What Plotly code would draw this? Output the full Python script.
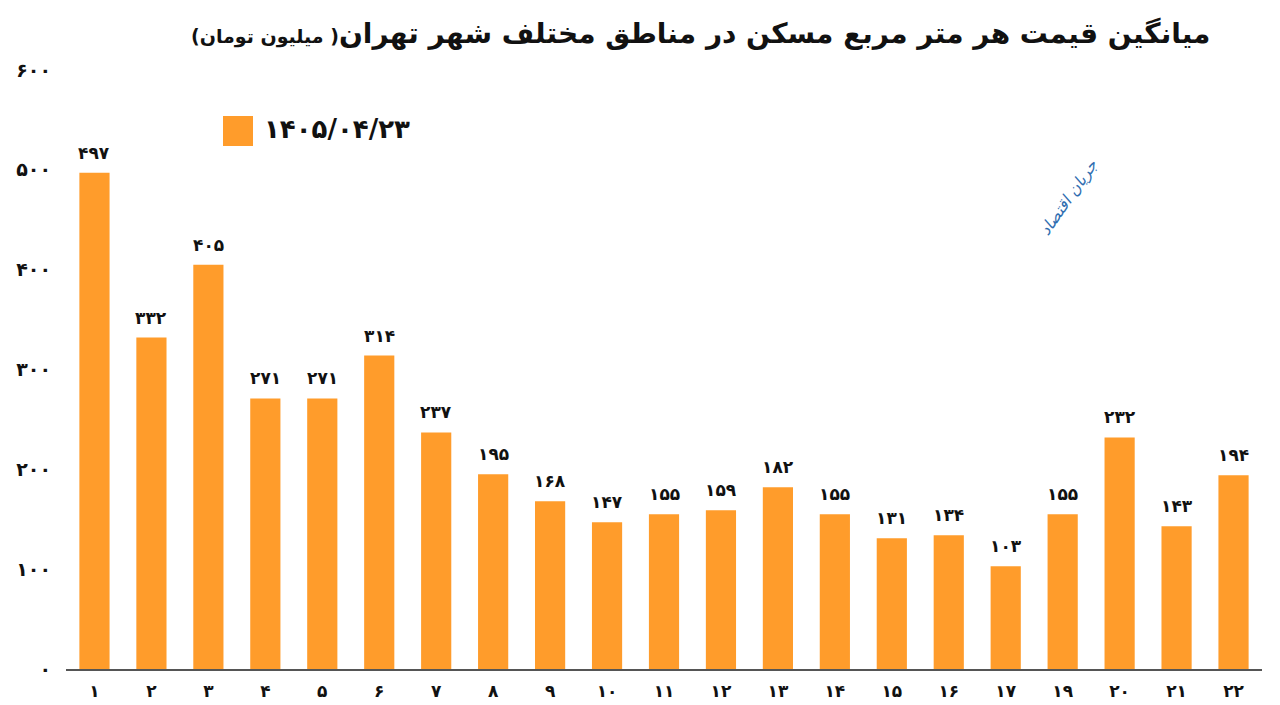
import plotly.graph_objects as go

# ---- data ----
districts = [1, 2, 3, 4, 5, 6, 7, 8, 9, 10, 11, 12, 13, 14, 15, 16, 17, 19, 20, 21, 22]
prices = [497, 332, 405, 271, 271, 314, 237, 195, 168, 147, 155, 159, 182, 155, 131, 134, 103, 155, 232, 143, 194]
y_ticks = [0, 100, 200, 300, 400, 500, 600]
series_name = "1405/04/23"
title_main = "میانگین قیمت هر متر مربع مسکن در مناطق مختلف شهر تهران"
title_unit = "( میلیون تومان)"
watermark = "جریان اقتصاد"

FA = str.maketrans("0123456789", "۰۱۲۳۴۵۶۷۸۹")


def fa(v):
    return str(v).translate(FA)


W, H = 1280, 705
L, R, T, B = 66, 18, 70, 36
PW, PH = W - L - R, H - T - B


def px(xp):
    return (xp - L) / PW


def py(yp):
    return (H - B - yp) / PH


FONT = "DejaVu Sans"
BAR = "#FF9C2B"

xcat = [fa(d) for d in districts]

fig = go.Figure()
fig.add_trace(go.Bar(
    x=xcat, y=prices, name=series_name,
    marker=dict(color=BAR, line=dict(width=0)),
    width=0.53, showlegend=False, hoverinfo="x+y",
))

# value labels
for c, v in zip(xcat, prices):
    fig.add_annotation(
        x=c, y=v, xref="x", yref="y", text=fa(v),
        showarrow=False, yanchor="bottom", yshift=8,
        font=dict(family=FONT, size=17, color="#111", weight="bold"),
    )

# title
fig.add_annotation(
    xref="paper", yref="paper", x=px(1212), y=py(33),
    xanchor="right", yanchor="middle", showarrow=False,
    text="<b>\u200f" + title_main + "<span style='font-size:19px'>" + title_unit + "</span>\u200f</b>",
    font=dict(family=FONT, size=28, color="#111"),
)

# legend (manual, large swatch)
fig.add_shape(type="rect", xref="paper", yref="paper",
              x0=px(223), x1=px(253), y0=py(146), y1=py(116),
              fillcolor=BAR, line=dict(width=0))
fig.add_annotation(
    xref="paper", yref="paper", x=px(262), y=py(129),
    xanchor="left", yanchor="middle", showarrow=False,
    text=fa(series_name),
    font=dict(family=FONT, size=26, color="#111", weight="bold"),
)

# watermark
fig.add_annotation(
    xref="paper", yref="paper", x=px(1068), y=py(197),
    xanchor="center", yanchor="middle", showarrow=False,
    text="<i>" + watermark + "</i>", textangle=-55,
    font=dict(family=FONT, size=16, color="#2F6DB0"),
)

fig.update_layout(
    width=W, height=H,
    margin=dict(l=L, r=R, t=T, b=B),
    paper_bgcolor="white", plot_bgcolor="white",
    showlegend=False,
    bargap=0.47,
    font=dict(family=FONT, color="#111"),
    xaxis=dict(
        type="category", automargin=False,
        showgrid=False, showline=True, linecolor="#555", linewidth=1.5,
        ticks="", tickfont=dict(size=17, family=FONT, color="#111", weight="bold"),
        ticklabelstandoff=6, zeroline=False, range=[-0.5, len(xcat) - 0.5],
    ),
    yaxis=dict(
        range=[0, 600], tickvals=y_ticks, ticktext=[fa(t) for t in y_ticks],
        showgrid=False, showline=False, zeroline=False, ticks="", automargin=False,
        tickfont=dict(size=19, family=FONT, color="#111", weight="bold"),
        ticklabelstandoff=14,
    ),
)

fig.write_html("out.html")
